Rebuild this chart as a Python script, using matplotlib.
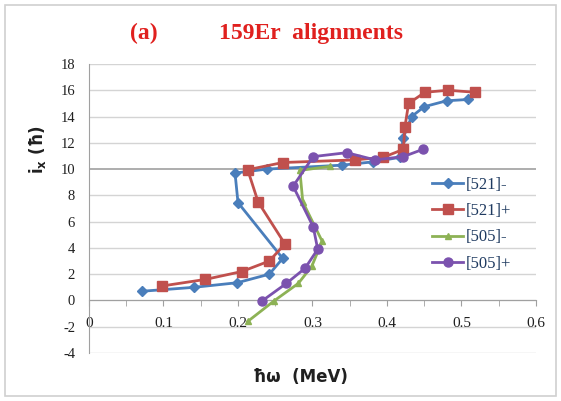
import matplotlib
matplotlib.use("Agg")
import matplotlib.pyplot as plt
from matplotlib.patches import Rectangle
import numpy as np

# ---- data ----
x_521m = [0.071, 0.141, 0.199, 0.242, 0.260, 0.200, 0.196, 0.239, 0.340, 0.381, 0.418, 0.422, 0.433, 0.450, 0.480, 0.509]
y_521m = [0.7, 1.0, 1.35, 2.0, 3.2, 7.45, 9.7, 10.0, 10.3, 10.55, 10.9, 12.4, 14.0, 14.75, 15.2, 15.3]

x_521p = [0.098, 0.156, 0.205, 0.242, 0.263, 0.227, 0.213, 0.260, 0.357, 0.395, 0.422, 0.424, 0.429, 0.451, 0.482, 0.518]
y_521p = [1.1, 1.6, 2.2, 3.0, 4.3, 7.5, 9.95, 10.5, 10.7, 10.9, 11.5, 13.2, 15.0, 15.85, 16.0, 15.85]

x_505m = [0.213, 0.248, 0.281, 0.299, 0.313, 0.287, 0.283, 0.323]
y_505m = [-1.6, -0.05, 1.3, 2.6, 4.5, 7.5, 9.9, 10.2]

x_505p = [0.232, 0.265, 0.290, 0.307, 0.301, 0.274, 0.301, 0.346, 0.384, 0.422, 0.448]
y_505p = [-0.05, 1.3, 2.45, 3.9, 5.6, 8.7, 10.95, 11.25, 10.7, 10.95, 11.5]

labels = ["[521]-", "[521]+", "[505]-", "[505]+"]
x_ticks = [0, 0.1, 0.2, 0.3, 0.4, 0.5, 0.6]
x_tick_labels = ["0", "0.1", "0.2", "0.3", "0.4", "0.5", "0.6"]
y_ticks = list(range(-4, 19, 2))

series = [
    (x_521m, y_521m, "#4A7EBB", "D", 5),
    (x_521p, y_521p, "#C0504D", "s", 6.5),
    (x_505m, y_505m, "#8DB255", "^", 5),
    (x_505p, y_505p, "#7B52AE", "o", 6.5),
]

fig = plt.figure(figsize=(5.61, 4.01), dpi=100)
fig.patch.set_facecolor("white")
fig.patches.append(Rectangle((5 / 561, 5 / 401), 551 / 561, 391 / 401,
                             transform=fig.transFigure, fill=False,
                             edgecolor="#d0d0d0", linewidth=1.2))

ax = fig.add_axes([89 / 561, 48 / 401, 447 / 561, 289 / 401])
ax.set_xlim(0, 0.6)
ax.set_ylim(-4, 18)

for y in y_ticks:
    ax.axhline(y, color="#a0a0a0" if y == 10 else "#d4d4d4",
               linewidth=1.2 if y == 10 else 1.0, zorder=0)

for i, (xs, ys, c, m, ms) in enumerate(series):
    ax.plot(xs, ys, color=c, marker=m, markersize=ms, linewidth=2.0,
            label=labels[i], zorder=3 + i)

ax.spines["top"].set_visible(False)
ax.spines["right"].set_visible(False)
ax.spines["bottom"].set_position(("data", 0))
ax.spines["bottom"].set_color("#a0a0a0")
ax.spines["left"].set_color("#a0a0a0")

ax.set_xticks(x_ticks)
ax.set_xticklabels(x_tick_labels)
ax.set_xticks(np.arange(0.05, 0.6, 0.1), minor=True)
ax.set_yticks(y_ticks)
ax.set_yticklabels([str(v) for v in y_ticks])

ax.tick_params(axis="x", which="both", direction="out", length=4,
               color="#a0a0a0", pad=8)
ax.tick_params(axis="x", labelsize=11)
ax.tick_params(axis="y", length=0, pad=10, labelsize=10.5)
for lab in ax.get_xticklabels() + ax.get_yticklabels():
    lab.set_fontfamily("Liberation Serif")
    lab.set_color("#202020")

leg = ax.legend(loc="upper left", bbox_to_anchor=(0.752, 0.633), frameon=False,
                prop={"family": "Liberation Serif", "size": 12},
                handlelength=1.9, handletextpad=0.15, labelspacing=0.62,
                borderaxespad=0)
for t in leg.get_texts():
    t.set_color("#1F3A60")

fig.text(38 / 561, 1 - 150 / 401, r"i$_\mathregular{x}$ (ħ)", rotation=90,
         ha="center", va="center", fontsize=12, fontweight="bold",
         family="DejaVu Sans", color="#202020")
fig.text(300 / 561, 1 - 377 / 401, "ħω  (MeV)", ha="center", va="center",
         fontsize=12, fontweight="bold", family="DejaVu Sans", color="#202020")

fig.text(144 / 561, 1 - 33 / 401, "(a)", ha="center", va="center",
         fontsize=17, fontweight="bold", family="Liberation Serif", color="#E0201E")
fig.text(311 / 561, 1 - 33 / 401, "159Er  alignments", ha="center", va="center",
         fontsize=17, fontweight="bold", family="Liberation Serif", color="#E0201E")

fig.savefig("out.png", dpi=100, facecolor="white")
